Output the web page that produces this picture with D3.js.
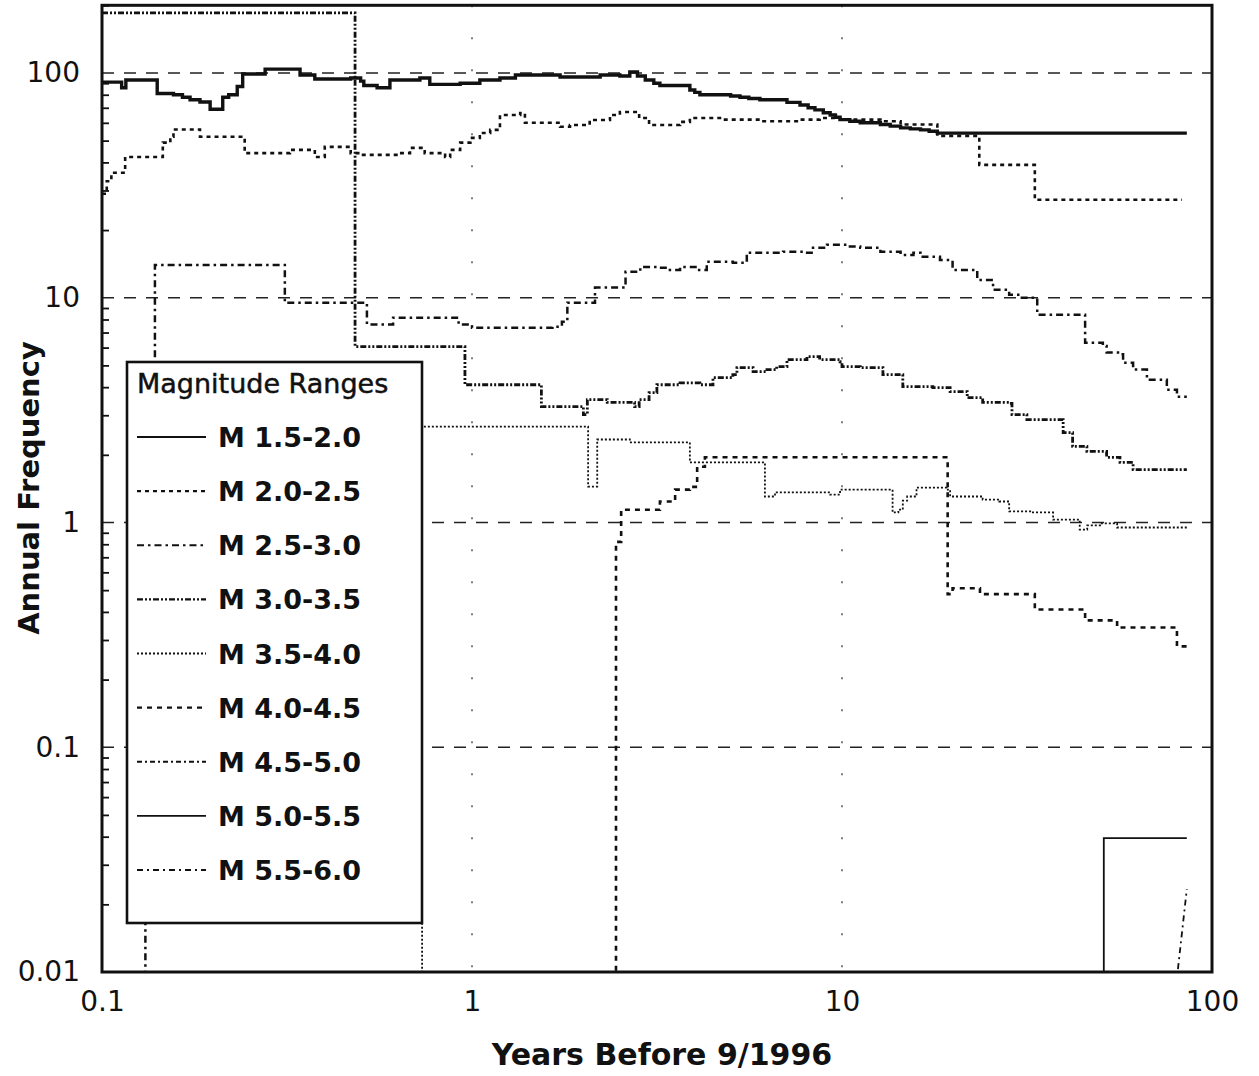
<!DOCTYPE html>
<html>
<head>
<meta charset="utf-8">
<script src="https://cdn.jsdelivr.net/npm/d3@7"></script>
<style>
  html, body { margin: 0; padding: 0; background: #fff; }
  svg { display: block; }
  text { fill: #111; }
</style>
</head>
<body>
<svg id="chart" width="1259" height="1076"></svg>
<script>
// Annual frequency of events per magnitude band vs. time window (years before 9/1996).
// Each series is a list of [yearsBefore, annualFrequency]; 0.001 marks "no events" (below the axis).

const magnitudeRanges = ["M 1.5-2.0", "M 2.0-2.5", "M 2.5-3.0", "M 3.0-3.5", "M 3.5-4.0",
                         "M 4.0-4.5", "M 4.5-5.0", "M 5.0-5.5", "M 5.5-6.0"];

const m15_20 = [[0.1,91],[0.113,86],[0.116,93],[0.141,81],[0.156,80],[0.165,78],[0.173,76],[0.184,74.3],
  [0.196,69],[0.208,69],[0.212,78],[0.22,80],[0.232,87],[0.24,99],[0.272,99],[0.276,104],[0.322,104],
  [0.343,98],[0.376,94],[0.44,94],[0.47,95],[0.5,92],[0.51,88],[0.554,86],[0.6,93],[0.723,95],[0.769,89],
  [0.873,89],[0.929,90],[1.05,93],[1.19,95],[1.31,98],[1.73,96],[2.22,98],[2.51,97],[2.67,101],[2.8,97],
  [2.94,93],[3.1,90],[3.22,88],[3.65,88],[3.88,84],[4.0,82],[4.13,80],[4.68,80],[5.0,79],[5.3,78],[5.6,77],
  [6.0,76],[6.59,76],[7.1,74],[7.7,72],[8.1,70],[8.45,68.5],[8.9,66.5],[9.29,65],[9.6,63.5],[9.88,62],
  [10.5,61],[11.2,60],[12.7,59],[13.5,58],[14.4,57],[15.3,56.4],[16.3,55.8],[17.2,55],[18.1,54],[85.5,54]];

const m20_25 = [[0.1,29],[0.103,33],[0.106,36],[0.1155,42.3],[0.146,49],[0.153,52],[0.156,56],[0.173,56],
  [0.184,52],[0.24,52],[0.243,44],[0.303,44],[0.322,45.5],[0.365,45.5],[0.376,42.3],[0.40,46.9],[0.44,46.9],
  [0.47,44],[0.5,43.2],[0.6,43.2],[0.637,44],[0.68,46.4],[0.745,44],[0.821,44],[0.846,42.3],[0.873,45.5],
  [0.929,49],[0.99,51.4],[1.05,54.1],[1.12,55.8],[1.19,65],[1.35,66.4],[1.39,60],[1.53,60],[1.73,57.6],
  [1.84,58.7],[2.08,61.8],[2.36,65],[2.51,67],[2.83,63],[3.01,58.7],[3.65,60.6],[3.88,63],[4.68,62],
  [6.0,61],[7.7,62],[8.7,63],[9.88,62],[11.2,62],[12.7,61],[14.4,59],[18.1,52.5],[23.5,39],[33.2,27.3],
  [83,27.3]];

const m25_30 = [[0.1,0.001],[0.131,0.5],[0.139,14.0],[0.312,9.5],[0.52,7.6],[0.612,8.15],[0.92,7.6],
  [1.0,7.36],[1.65,7.43],[1.75,7.82],[1.81,9.5],[2.15,11.1],[2.6,13.05],[2.85,13.7],[3.16,13.6],[3.37,13.3],
  [3.65,13.7],[4.06,13.3],[4.31,14.45],[5.07,14.3],[5.53,15.85],[6.93,16.0],[7.85,15.85],[8.35,16.7],
  [9.11,17.2],[10.3,16.9],[11.2,16.7],[12.7,16.0],[14.4,15.5],[15.6,15.85],[16.3,15.2],[18.4,14.7],
  [19.9,13.3],[23.2,12.0],[25.6,10.85],[28.3,10.3],[30.3,10.0],[33.7,8.4],[45.4,6.31],[50.7,6.1],
  [51.9,5.7],[56.4,5.6],[57.5,5.14],[61.2,4.79],[66.7,4.32],[75.5,3.9],[80.4,3.63],[85.5,3.63]];

const m30_35 = [[0.1,185],[0.483,6.06],[0.957,4.1],[1.54,3.28],[2.0,3.02],[2.05,3.52],[2.32,3.42],
  [2.67,3.42],[2.75,3.28],[2.83,3.52],[3.01,3.78],[3.16,4.1],[3.65,4.18],[4.13,4.1],[4.48,4.41],[5.07,4.55],
  [5.2,4.89],[5.75,4.69],[6.27,4.79],[6.66,4.94],[7.1,5.3],[8.04,5.47],[8.7,5.3],[9.88,5.19],[10.0,4.94],
  [11.2,4.89],[12.9,4.55],[14.6,4.02],[17.6,3.98],[19.6,3.82],[21.8,3.59],[24.0,3.42],[28.3,3.39],
  [28.8,3.02],[31.6,2.87],[37.2,2.87],[39.6,2.51],[42.0,2.18],[45.9,2.07],[51.9,1.95],[56.4,1.85],
  [61.2,1.72],[85.5,1.72]];

const m35_40 = [[0.1,0.001],[0.733,2.67],[2.06,1.445],[2.18,2.34],[2.67,2.27],[3.88,1.85],[6.19,1.305],
  [6.59,1.36],[9.29,1.33],[9.88,1.4],[13.7,1.108],[14.2,1.14],[14.6,1.25],[15.0,1.305],[15.9,1.43],
  [19.2,1.4],[19.6,1.305],[24.0,1.265],[26.6,1.24],[28.3,1.12],[32.6,1.108],[37.2,1.03],[43.9,0.93],
  [46,0.97],[49.8,0.99],[55.4,0.95],[85.5,0.95]];

const m40_45 = [[0.1,0.001],[2.45,0.82],[2.53,1.14],[3.22,1.24],[3.54,1.40],[3.88,1.44],[4.06,1.77],
  [4.26,1.95],[19.3,0.48],[19.9,0.51],[23.6,0.48],[33.2,0.41],[45.4,0.367],[55.4,0.341],[80.4,0.281],
  [85.5,0.281]];

const m45_50 = [];

const m50_55 = [[0.1,0.001],[51.0,0.0394],[85.5,0.0394]];

const m55_60 = [[80.9,0.0103],[85.5,0.0234]];

const yTickValues = [0.01, 0.1, 1, 10, 100];
const xTickValues = [0.1, 1, 10, 100];

// ---- layout ----
const svg = d3.select("#chart");
const plot = { left: 102, right: 1212, top: 5.3, bottom: 972 };

const x = d3.scaleLog().domain([0.1, 100]).range([plot.left, plot.right]);
const y = d3.scaleLog().domain([0.01, 200]).range([plot.bottom, plot.top]);

const series = [
  { name: magnitudeRanges[0], data: m15_20, dash: null,          width: 3.4, curve: d3.curveStepAfter },
  { name: magnitudeRanges[1], data: m20_25, dash: "4,4",         width: 2.6, curve: d3.curveStepAfter },
  { name: magnitudeRanges[2], data: m25_30, dash: "7,4,2.5,4",   width: 2.5, curve: d3.curveStepAfter },
  { name: magnitudeRanges[3], data: m30_35, dash: "6,2,2,2,2,2", width: 2.8, curve: d3.curveStepAfter },
  { name: magnitudeRanges[4], data: m35_40, dash: "2,2",         width: 1.8, curve: d3.curveStepAfter },
  { name: magnitudeRanges[5], data: m40_45, dash: "5,5",         width: 2.6, curve: d3.curveStepAfter },
  { name: magnitudeRanges[6], data: m45_50, dash: "5,3,2,3",     width: 1.8, curve: d3.curveStepAfter },
  { name: magnitudeRanges[7], data: m50_55, dash: null,          width: 1.8, curve: d3.curveStepAfter },
  { name: magnitudeRanges[8], data: m55_60, dash: "6,4,2,4",     width: 1.8, curve: d3.curveLinear }
];

svg.append("defs").append("clipPath").attr("id", "plotClip")
  .append("rect")
  .attr("x", plot.left).attr("y", plot.top)
  .attr("width", plot.right - plot.left).attr("height", plot.bottom - plot.top);

// ---- grid ----
const grid = svg.append("g");
grid.selectAll("line.hgrid").data([100, 10, 1, 0.1]).join("line")
  .attr("x1", plot.left).attr("x2", plot.right)
  .attr("y1", d => y(d)).attr("y2", d => y(d))
  .attr("stroke", "#222").attr("stroke-width", 1.5).attr("stroke-dasharray", "12,10");
grid.selectAll("line.vgrid").data([1, 10]).join("line")
  .attr("x1", d => x(d)).attr("x2", d => x(d))
  .attr("y1", plot.top).attr("y2", plot.bottom)
  .attr("stroke", "#555").attr("stroke-width", 1.5).attr("stroke-dasharray", "2,30");

// ---- series ----
const lines = svg.append("g").attr("clip-path", "url(#plotClip)");
series.forEach(s => {
  if (!s.data.length) return;
  const line = d3.line().x(d => x(d[0])).y(d => y(d[1])).curve(s.curve);
  lines.append("path")
    .attr("d", line(s.data))
    .attr("fill", "none")
    .attr("stroke", "#111")
    .attr("stroke-width", s.width)
    .attr("stroke-dasharray", s.dash)
    .attr("stroke-linejoin", "miter");
});

// ---- axes ----
const minorY = [];
[0.01, 0.1, 1, 10, 100].forEach(dec => {
  for (let k = 2; k <= 9; k++) {
    const v = dec * k;
    if (v <= 200) minorY.push(v);
  }
});

const yMinor = svg.append("g").attr("transform", `translate(${plot.left},0)`)
  .call(d3.axisRight(y).tickValues(minorY).tickSize(7).tickFormat(""));
yMinor.select(".domain").remove();
yMinor.selectAll("line").attr("stroke", "#111").attr("stroke-width", 1.8);

const yAxis = svg.append("g").attr("transform", `translate(${plot.left},0)`)
  .call(d3.axisLeft(y).tickValues(yTickValues).tickSize(0).tickPadding(22).tickFormat(d => String(d)));
yAxis.select(".domain").remove();
yAxis.selectAll("text")
  .attr("font-family", "DejaVu Sans, sans-serif").attr("font-size", 28).attr("fill", "#111");

const xAxis = svg.append("g").attr("transform", `translate(0,${plot.bottom})`)
  .call(d3.axisBottom(x).tickValues(xTickValues).tickSize(0).tickPadding(19).tickFormat(d => String(d)));
xAxis.select(".domain").remove();
xAxis.selectAll("text")
  .attr("font-family", "DejaVu Sans, sans-serif").attr("font-size", 28).attr("fill", "#111");

// plot frame
svg.append("rect")
  .attr("x", plot.left).attr("y", plot.top)
  .attr("width", plot.right - plot.left).attr("height", plot.bottom - plot.top)
  .attr("fill", "none").attr("stroke", "#111").attr("stroke-width", 3);

// axis titles
svg.append("text")
  .attr("x", 662).attr("y", 1065)
  .attr("text-anchor", "middle")
  .attr("font-family", "DejaVu Sans, sans-serif").attr("font-weight", "bold").attr("font-size", 30)
  .text("Years Before 9/1996");

svg.append("text")
  .attr("transform", "translate(39,488) rotate(-90)")
  .attr("text-anchor", "middle")
  .attr("font-family", "DejaVu Sans, sans-serif").attr("font-weight", "bold").attr("font-size", 29)
  .text("Annual Frequency");

// ---- legend ----
const legend = svg.append("g");
legend.append("rect")
  .attr("x", 127).attr("y", 362).attr("width", 295).attr("height", 561)
  .attr("fill", "#fff").attr("stroke", "#111").attr("stroke-width", 2.6);
legend.append("text")
  .attr("x", 137).attr("y", 393)
  .attr("font-family", "DejaVu Sans, sans-serif").attr("font-size", 27)
  .attr("stroke", "#111").attr("stroke-width", 0.5)
  .text("Magnitude Ranges");

const rowY = d3.scalePoint().domain(magnitudeRanges).range([437, 870]);
const rows = legend.selectAll("g.row").data(series).join("g")
  .attr("transform", d => `translate(0,${rowY(d.name)})`);
rows.append("line")
  .attr("x1", 137).attr("x2", 206).attr("y1", 0).attr("y2", 0)
  .attr("stroke", "#111")
  .attr("stroke-width", d => Math.min(d.width, 2.2))
  .attr("stroke-dasharray", d => d.dash);
rows.append("text")
  .attr("x", 218).attr("y", 10)
  .attr("font-family", "DejaVu Sans, sans-serif").attr("font-weight", "bold").attr("font-size", 27)
  .text(d => d.name);
</script>
</body>
</html>
